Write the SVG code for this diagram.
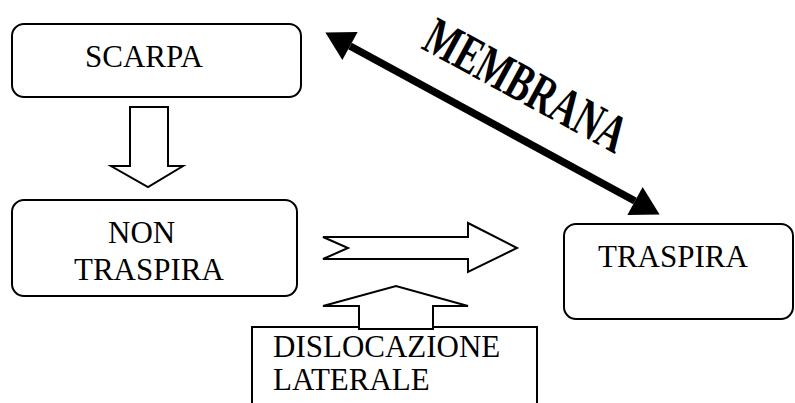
<svg xmlns="http://www.w3.org/2000/svg" width="795" height="403" viewBox="0 0 795 403">
<style>
.box{fill:#fff;stroke:#000;stroke-width:2}
.blk{fill:#fff;stroke:#000;stroke-width:2;stroke-linejoin:miter}
.t{font-family:"Liberation Serif","Times New Roman",serif;font-size:31px;fill:#000}
.wa{font-family:"Liberation Serif","Times New Roman",serif;font-weight:bold;font-size:54px;fill:#000}
</style>
<defs>
<marker id="head" markerUnits="userSpaceOnUse" markerWidth="30" markerHeight="32" refX="0" refY="16" orient="auto-start-reverse" overflow="visible">
<path d="M0,0 L28,16 L0,32 z" fill="#000"/>
</marker>
</defs>
<rect width="795" height="403" fill="#fff"/>
<g id="scarpa">
<rect class="box" x="12" y="24" width="289" height="73" rx="12"/>
<text class="t" x="85" y="67">SCARPA</text>
</g>
<g id="non-traspira">
<rect class="box" x="12" y="200" width="285" height="96" rx="12"/>
<text class="t" x="108" y="243">NON</text>
<text class="t" x="74" y="280">TRASPIRA</text>
</g>
<g id="traspira">
<rect class="box" x="564" y="224" width="229" height="95" rx="12"/>
<text class="t" x="598" y="267">TRASPIRA</text>
</g>
<g id="dislocazione">
<rect class="box" x="252" y="327" width="285" height="90"/>
<text class="t" x="273" y="357">DISLOCAZIONE</text>
<text class="t" x="273" y="390">LATERALE</text>
</g>
<g id="connectors">
<polygon class="blk" points="130,107 168,107 168,166 183,166 148,187 111,166 130,166"/>
<polygon class="blk" points="323,237 468,237 468,223 517,248 468,272 468,259 323,259 348,248"/>
<polygon class="blk" points="359,329 359,306 323,306 396,286 468,306 433,306 433,329"/>
<line x1="350" y1="46" x2="635" y2="201" stroke="#000" stroke-width="7.5" marker-start="url(#head)" marker-end="url(#head)"/>
<text class="wa" transform="translate(420,48) rotate(28.5)" textLength="222" lengthAdjust="spacingAndGlyphs">MEMBRANA</text>
</g>
</svg>
